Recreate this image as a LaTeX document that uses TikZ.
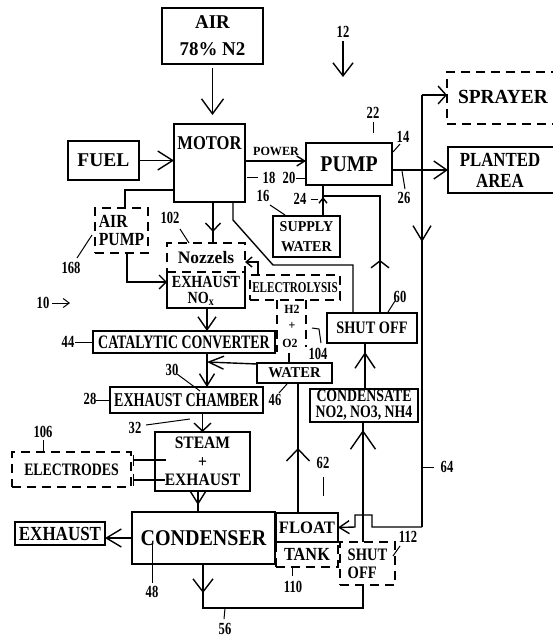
\documentclass[tikz,border=0pt]{standalone}
\usepackage{fontspec}
\setmainfont{Liberation Serif}
\usetikzlibrary{arrows.meta,decorations.markings,calc}
\newcommand\fz[3]{\fontsize{#1}{#2}\selectfont\bfseries\addfontfeatures{FakeStretch=#3}}
\newcommand\bx[7]{\node[#6,anchor=north west,minimum width={#4pt-#2pt},minimum height={#5pt-#3pt}] (#1) at (#2,#3) {#7};}
\tikzset{
  box/.style={draw,line width=1.4pt,inner sep=0pt,outer sep=0pt,align=center},
  dbox/.style={box,dash pattern=on 9pt off 6pt},
  nobox/.style={inner sep=0pt,outer sep=0pt},
  txt/.style={inner sep=0pt,align=center},
  lbl/.style={inner sep=0pt,font=\fz{17}{17}{0.74}},
  lead/.style={line width=1pt},
  ea/.style 2 args={-{Straight Barb[length=#1pt,width=#2pt]}},
  ma/.style n args={3}{postaction={decorate,decoration={markings,mark=at position #1 with {\arrow{Straight Barb[length=#2pt,width=#3pt]}}}}}
}
\begin{document}
\begin{tikzpicture}[x=1pt,y=-1pt,line width=1.4pt]
\useasboundingbox (0,0) rectangle (553,637);
% boxes
\bx{air}{162}{8}{263}{64}{box,font=\fz{19.5}{27}{0.97}}{AIR\\78\% N2}
\bx{motor}{174}{124}{245}{202}{box}{}
\node[txt,font=\fz{19.5}{20}{0.85}] (motort) at (209.5,143) {MOTOR};
\bx{fuel}{68}{141}{139}{180}{box,font=\fz{19.5}{20}{1}}{FUEL}
\bx{pump}{306}{143}{392}{185}{box,font=\fz{22.5}{22}{0.88}}{PUMP}
\bx{spray}{447}{72}{560}{124}{dbox}{}
\node[txt,font=\fz{20}{20}{0.97}] (sprayt) at (503,97) {SPRAYER};
\bx{plant}{448}{147}{560}{193}{box}{}
\node[txt,font=\fz{20}{21}{0.84}] (plantt) at (500,170) {PLANTED\\AREA};
\bx{supply}{273}{216}{340}{257}{box,font=\fz{15}{20}{0.94}}{SUPPLY\\WATER}
\bx{airpump}{95}{208}{148}{253}{dbox,font=\fz{18.5}{18}{0.85},align=left}{AIR\\PUMP}
\bx{nozz}{167}{243}{245}{272}{dbox,font=\fz{17.5}{18}{1}}{Nozzels}
\bx{exh}{167}{272}{245}{308}{nobox}{}
\draw (exh.north west) -- (exh.south west) -- (exh.south east) -- (exh.north east);
\node[txt,font=\fz{17}{16}{0.83}] (exht) at (206,282) {EXHAUST};
\node[txt,font=\fz{17}{16}{0.83}] (noxt) at (201,299) {NO\textsubscript{x}};
\bx{electro}{250}{275}{340}{300}{dbox,font=\fz{15}{13}{0.74}}{ELECTROLYSIS}
\draw[dash pattern=on 9pt off 6pt] ($(electro.south west)+(27,0)$) -- ++(0,52);
\draw[dash pattern=on 9pt off 6pt] ($(electro.south west)+(56,0)$) -- ++(0,47);
\node[txt,font=\fz{12.5}{14}{0.95}] (h2) at (292,309) {H2};
\node[txt,font=\fz{12.5}{14}{0.95}] (plus) at (292,326) {+};
\node[txt,font=\fz{12.5}{14}{0.95}] (o2) at (290,343) {O2};
\bx{cat}{93}{331}{275}{353}{box,font=\fz{19}{16}{0.73}}{CATALYTIC CONVERTER}
\bx{water}{257}{363}{332}{383}{box,font=\fz{15}{16}{0.97}}{WATER}
\bx{chamber}{110}{387}{263}{413}{box,font=\fz{19.5}{16}{0.72}}{EXHAUST CHAMBER}
\bx{shut}{327}{313}{417}{343}{box,font=\fz{17.5}{16}{0.82}}{SHUT OFF}
\bx{cond}{310}{389}{418}{422}{box,font=\fz{17.5}{16}{0.79}}{CONDENSATE\\NO2, NO3, NH4}
\bx{steam}{155}{432}{250}{491}{box,font=\fz{17.5}{18.5}{0.89}}{STEAM\\+\\EXHAUST}
\bx{electrodes}{12}{452}{131}{487}{dbox,font=\fz{17.5}{16}{0.79}}{ELECTRODES}
\bx{condenser}{132}{512}{275}{564}{box,font=\fz{22.5}{22}{0.89}}{CONDENSER}
\bx{exhout}{15}{522}{105}{545}{box,font=\fz{20}{18}{0.85}}{EXHAUST}
\bx{float}{276}{513}{338}{542}{box,font=\fz{17.5}{18}{0.95}}{FLOAT}
\bx{tank}{276}{542}{338}{567}{dbox,font=\fz{18.5}{18}{0.88}}{TANK}
\bx{shut2}{340}{542}{395}{585}{dbox,font=\fz{17.5}{18}{0.83},align=left}{SHUT\\OFF}
% connectors
\draw[ea={15}{22},shorten <=4pt,shorten >=9pt] (air.south) -- (air.south |- motor.north);
\node[lbl] (n12) at (343,32) {12};
\coordinate (c12) at (343,77);
\draw[ea={13}{20}] ($(n12.south)+(0,3)$) -- (c12);
\draw[ea={15}{19}] (fuel.east) -- (fuel.east -| motor.west);
\draw[ea={8}{10}] ($(motor.north east)+(0,37)$) -- ($(pump.north west)+(0,18)$);
\node[txt,font=\fz{12.5}{12}{0.97}] (powert) at (276,151) {POWER};
\draw[ea={13}{18}] ($(pump.north east)+(0,27)$) -- ($(plant.north west)+(0,23)$);
\coordinate (rtop) at (422,95);
\coordinate (rbot) at (422,527);
\draw[ea={8}{18}] (rtop) -- (rtop -| spray.west);
\draw[ma={147pt}{15}{18}] (rtop) -- (rbot);
\draw[ea={10}{13}] (rbot) -- ++(-50,0) -- ++(0,-12) -- ++(-17,0) -- ++(0,12) -- (float.east);
\coordinate (j24) at (323,196);
\draw[ma={19pt}{5}{8}] (supply.north -| j24) -- (pump.south -| j24);
\draw[ma={53pt}{7}{18}] ($(shut.north west)+(53,0)$) |- (j24);
\draw ($(motor.south west)+(59,0)$) -- ++(0,18) -- (273,265) -| ($(shut.north west)+(26,0)$);
\draw[ma={-11pt}{8}{15}] ($(motor.south west)+(39,0)$) -- ($(nozz.north west)+(46,0)$);
\draw ($(motor.north west)+(0,66)$) -| ($(airpump.north west)+(30,0)$);
\draw[ea={7}{14}] ($(airpump.south west)+(32,0)$) |- ($(exh.north west)+(0,10)$);
\draw[ea={6}{10}] ($(electro.north west)+(8,0)$) |- ($(nozz.north east)+(0,19)$);
\draw[ea={13}{18}] ($(exh.south west)+(40,0)$) -- ($(cat.north west)+(114,0)$);
\draw[ea={12}{15}] ($(cat.south west)+(114,0)$) -- ($(chamber.north west)+(97,0)$);
\coordinate (jw) at (207,362);
\draw[ea={15}{13}] ($(water.north west)+(0,1)$) -- (jw);
\draw ($(water.north west)+(32,0)$) -- ++(0,-10);
\draw[ea={8}{17}] (chamber.south -| steam.north) -- (steam.north);
\draw[ma={-7pt}{12}{15}] ($(steam.south west)+(43,0)$) -- ($(condenser.north west)+(66,0)$);
\draw[{Bar[width=11pt]}-] ($(electrodes.north east)+(2,8)$) -- ($(steam.north west)+(11,28)$);
\draw[{Bar[width=12pt]}-] ($(electrodes.north east)+(2,28)$) -- ($(steam.north west)+(10,48)$);
\draw[ea={15}{18}] (condenser.west) -- (condenser.west -| exhout.east);
\draw[ma={29pt}{13}{20}] ($(condenser.south west)+(71,0)$) -- ++(0,44) -| ($(shut2.south west)+(23,0)$);
\draw[ma={-8pt}{18}{25}] ($(shut2.north west)+(23,0)$) -- ($(cond.south west)+(53,0)$);
\draw[ma={-9pt}{15}{20}] ($(cond.north west)+(55,0)$) -- ($(shut.south west)+(38,0)$);
\draw[ma={65pt}{12}{23}] ($(float.north west)+(22,0)$) -- ($(water.south west)+(41,0)$);
% reference numerals
\node[lbl] (n22) at (373,113) {22}; \draw[lead] ($(n22.south)+(0,3)$) -- ++(0,11);
\node[lbl] (n14) at (403,137) {14}; \draw[lead] (393,152) -- (400,144);
\node[lbl] (n18) at (269,178) {18}; \draw[lead] (247,177) -- (258,177);
\node[lbl] (n20) at (289,178) {20}; \draw[lead] (296,178) -- (306,178);
\node[lbl] (n16) at (263,196) {16}; \draw[lead] (270,205) -- (285,215);
\node[lbl] (n24) at (300,199) {24}; \draw[lead] (311,199) -- (318,199);
\node[lbl] (n26) at (404,198) {26}; \draw[lead] (402,171) -- (405,189);
\node[lbl] (n102) at (170,218) {102}; \draw[lead] (180,229) -- (189,243);
\node[lbl] (n168) at (71,268) {168}; \draw[lead] (77,258) -- (92,235);
\node[lbl] (n10) at (43,303) {10}; \draw[lead,ea={6}{9}] (52,303) -- (70,303);
\node[lbl] (n44) at (68,342) {44}; \draw[lead] (75,342) -- (93,342);
\node[lbl] (n104) at (318,354) {104}; \draw[lead] (312,328) -- (319,329) -- (321,343);
\node[lbl] (n30) at (172,370) {30}; \draw[lead] (177,374) -- (200,391);
\node[lbl] (n28) at (90,399) {28}; \draw[lead] (96,400) -- (110,400);
\node[lbl] (n46) at (275,400) {46}; \draw[lead] (279,393) -- (287,384);
\node[lbl] (n60) at (400,297) {60}; \draw[lead] (388,312) -- (395,301);
\node[lbl] (n32) at (135,428) {32}; \draw[lead] (146,425) -- (190,419);
\node[lbl] (n106) at (43,432) {106}; \draw[lead] (43,440) -- (43,452);
\node[lbl] (n64) at (447,467) {64}; \draw[lead] (422,467) -- (434,467);
\node[lbl] (n62) at (323,463) {62}; \draw[lead] (323,477) -- (323,496);
\node[lbl] (n112) at (408,537) {112}; \draw[lead] (393,556) -- (400,546);
\node[lbl] (n48) at (152,592) {48}; \draw[lead] (152,541) -- (152,583);
\node[lbl] (n110) at (293,587) {110}; \draw[lead] (292,567) -- (292,576);
\node[lbl] (n56) at (225,629) {56}; \draw[lead] (225,608) -- (224,619);
\end{tikzpicture}
\end{document}
